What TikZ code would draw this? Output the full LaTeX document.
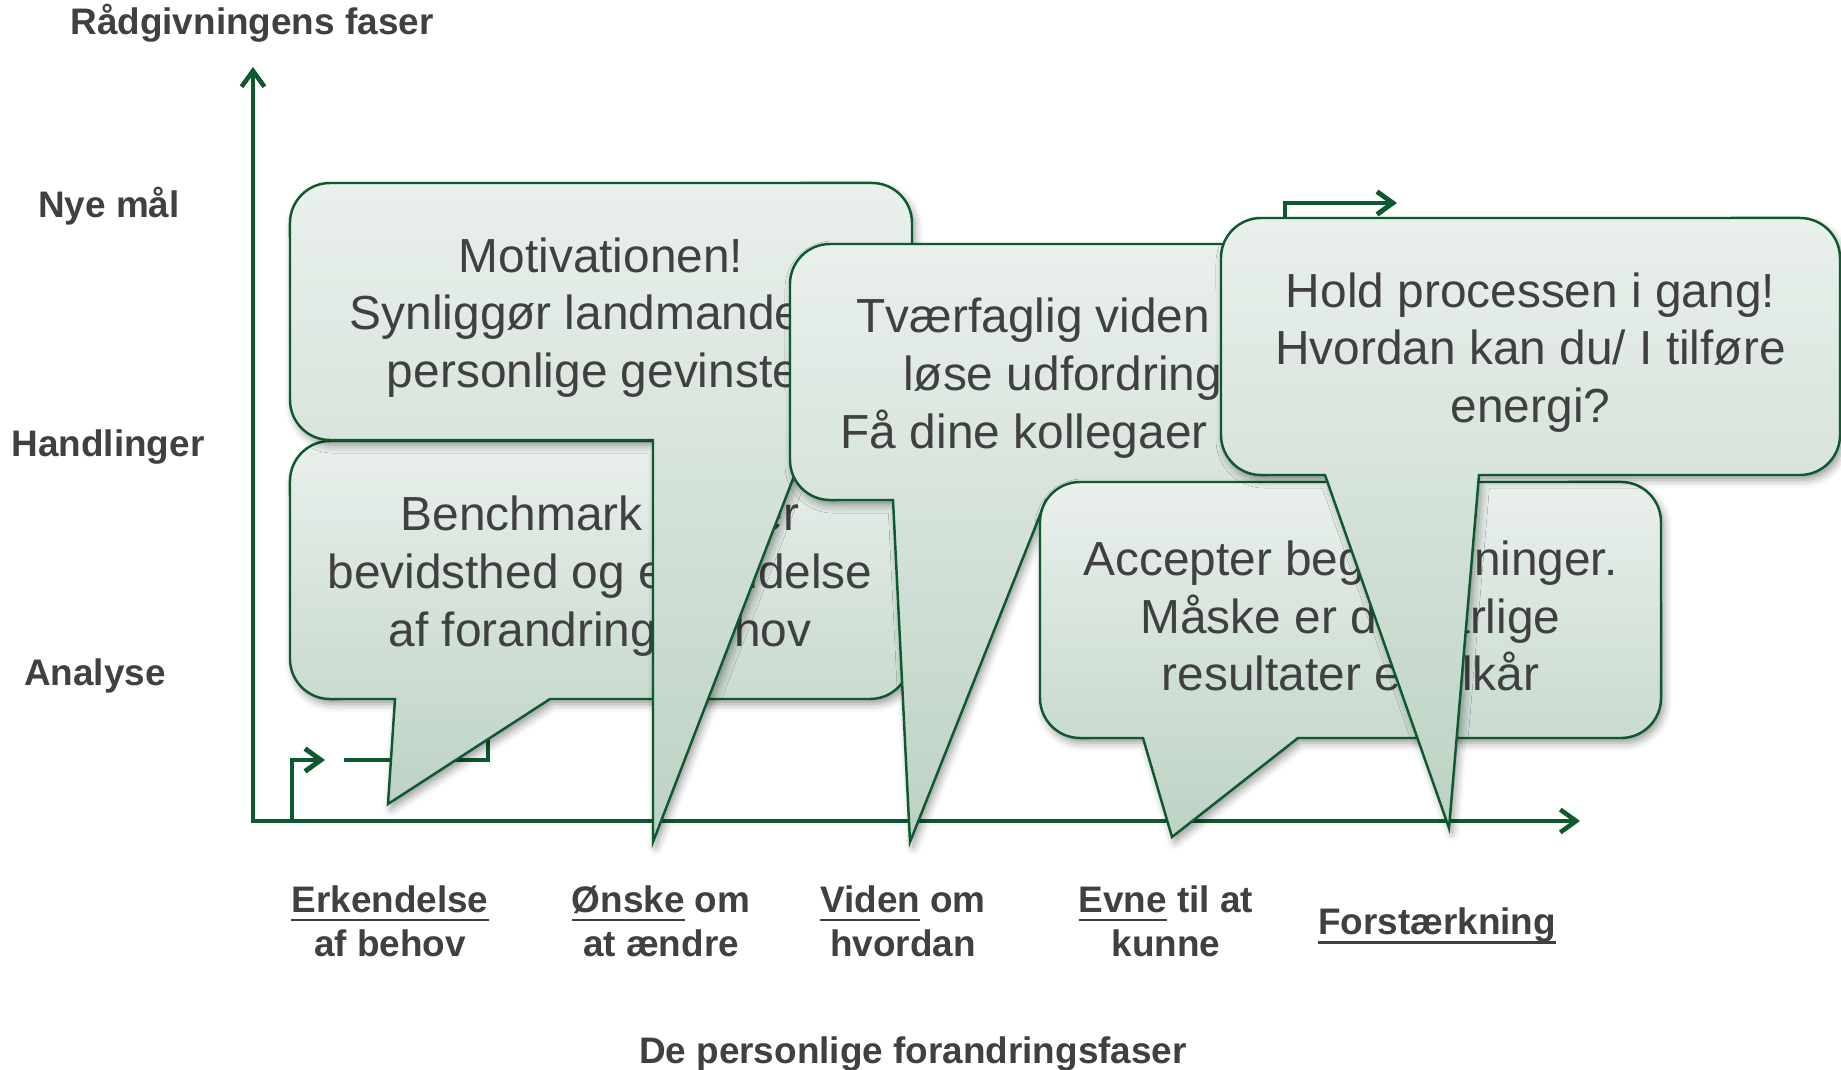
\documentclass[tikz,border=0pt]{standalone}
\usepackage{fontspec}
\setmainfont{Liberation Sans}
\usepackage{tikz}
\usetikzlibrary{arrows.meta, shadows.blur}

\definecolor{fasegreen}{RGB}{12,90,46}
\definecolor{fasetext}{RGB}{64,64,64}
\definecolor{bubbletop}{RGB}{234,240,236}
\definecolor{bubblebottom}{RGB}{188,210,196}

\newsavebox{\ulbox}
\newcommand{\ulbold}[1]{\sbox{\ulbox}{#1}\rlap{\rule[-2.6pt]{\wd\ulbox}{0.8pt}}\usebox{\ulbox}}

\begin{document}
\begin{tikzpicture}[x=0.01cm, y=-0.01cm, >={Straight Barb[length=4.5pt,width=6.5pt]},
    axisline/.style={draw=fasegreen, line width=1.3pt},
    stairline/.style={draw=fasegreen, line width=1.4pt},
    bubble/.style={draw=fasegreen, line width=0.7pt, top color=bubbletop, bottom color=bubblebottom,
        blur shadow={shadow xshift=0.3mm, shadow yshift=-0.5mm, shadow blur radius=0.8mm, shadow opacity=40}},
    bubbletext/.style={align=center, text=fasetext, font=\fontsize{13.6}{16.4}\selectfont},
    levellabel/.style={text=fasetext, font=\fontsize{10.5}{12.5}\selectfont\bfseries},
    phaselabel/.style={align=center, text=fasetext, font=\fontsize{10.5}{12.5}\selectfont\bfseries}]

    \useasboundingbox (0,0) rectangle (1841,1070);

    % --- Axes ---
    \coordinate (origin) at (253,821);
    \coordinate (ytop) at (253,67);
    \coordinate (xend) at (1580,821);
    \draw[axisline, <->] (ytop) -- (origin) -- (xend);

    % Axis titles
    \node[levellabel] (ytitle) at (252,23) {Rådgivningens faser};
    \node[levellabel] (xtitle) at (913,1054) {De personlige forandringsfaser};

    % Levels on the y axis
    \node[levellabel] (nyemaal) at (109,206) {Nye mål};
    \node[levellabel] (handlinger) at (108,447) {Handlinger};
    \node[levellabel] (analyse) at (95,676) {Analyse};

    % --- Staircase (mostly behind the bubbles) ---
    \draw[stairline, ->] (292,821) -- (292,760) -- (325,760);
    \draw[stairline] (344,760) -- (488,760) -- (488,690);
    \draw[stairline, ->] (1285,260) -- (1285,203) -- (1397,203);

    % --- Speech bubbles, back to front ---
    \foreach \nm/\xa/\ya/\xb/\yb/\tl/\tx/\ty/\tr/\txt in {
        B/290/441/910/699/395/388/804/550/{Benchmark skaber\\bevidsthed og erkendelse\\af forandringsbehov},
        A/290/183/912/440/653/653/842/808/{Motivationen!\\Synliggør landmandens\\personlige gevinster},
        C/790/244/1378/500/893/910/842/1046/{Tværfaglig viden til at\\løse udfordringer\\Få dine kollegaer med!},
        D/1040/482/1661/738/1143/1172/837/1298/{Accepter begrænsninger.\\Måske er de dårlige\\resultater et vilkår},
        E/1221/218/1840/475/1325/1449/828/1479/{Hold processen i gang!\\Hvordan kan du/ I tilføre\\energi?}}
    {
        \path[bubble] ({(\xa+\xb)/2},\ya) -- ({\xa+40},\ya) arc[start angle=90, end angle=180, radius=0.4cm]
            -- (\xa,{\yb-40}) arc[start angle=180, end angle=270, radius=0.4cm]
            -- (\tl,\yb) -- (\tx,\ty) -- (\tr,\yb)
            -- ({\xb-40},\yb) arc[start angle=270, end angle=360, radius=0.4cm]
            -- (\xb,{\ya+40}) arc[start angle=0, end angle=90, radius=0.4cm] -- cycle;
        \node[bubbletext] (txt\nm) at ({(\xa+\xb)/2},{(\ya+\yb)/2+6}) {\txt};
    }

    % --- Phases on the x axis ---
    \foreach \nm/\xp/\yp/\txt in {erkendelse/390/921/{\ulbold{Erkendelse}\\af behov},
                                  oenske/661/921/{\ulbold{Ønske} om\\at ændre},
                                  viden/903/921/{\ulbold{Viden} om\\hvordan},
                                  evne/1166/921/{\ulbold{Evne} til at\\kunne},
                                  forstaerkning/1437/926/{\ulbold{Forstærkning}}}
        \node[phaselabel] (\nm) at (\xp,\yp) {\txt};
\end{tikzpicture}
\end{document}
